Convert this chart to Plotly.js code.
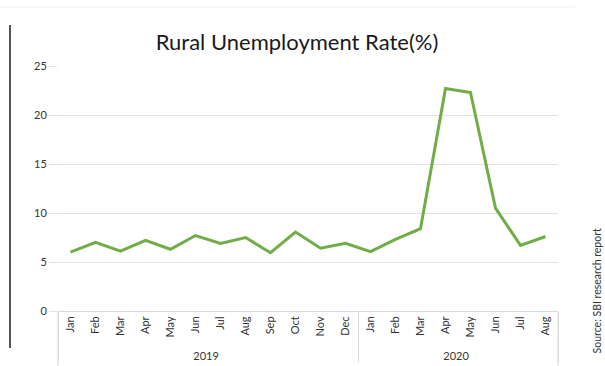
<!DOCTYPE html>
<html>
<head>
<meta charset="utf-8">
<script src="https://cdn.plot.ly/plotly-3.0.1.min.js"></script>
<style>html,body{margin:0;padding:0;background:#fff;}#chart{width:605px;height:366px;}</style>
</head>
<body>
<div id="chart"></div>
<script>
const years = ["2019","2019","2019","2019","2019","2019","2019","2019","2019","2019","2019","2019",
               "2020","2020","2020","2020","2020","2020","2020","2020"];
const months = ["Jan","Feb","Mar","Apr","May","Jun","Jul","Aug","Sep","Oct","Nov","Dec",
                "Jan","Feb","Mar","Apr","May","Jun","Jul","Aug"];
const ruralRate = [6.0, 7.0, 6.1, 7.2, 6.3, 7.7, 6.9, 7.5, 5.95, 8.05, 6.4, 6.9,
                   6.05, 7.3, 8.4, 22.7, 22.3, 10.5, 6.7, 7.6];
const yTicks = [0, 5, 10, 15, 20, 25];

const font = "Lato, 'Open Sans', sans-serif";

Plotly.newPlot("chart", [{
  type: "scatter",
  mode: "lines",
  x: [years, months],
  y: ruralRate,
  line: {color: "#70AD47", width: 3},
  hoverinfo: "skip"
}], {
  width: 605, height: 366,
  margin: {l: 58, r: 47, t: 66, b: 55, pad: 0},
  paper_bgcolor: "#fff", plot_bgcolor: "#fff",
  showlegend: false,
  font: {family: font, color: "#404040"},
  title: {text: "Rural Unemployment Rate(%)", xref: "container", x: 0.491, xanchor: "center",
          yref: "container", y: 0.885, yanchor: "middle",
          font: {family: font, size: 22, color: "#1a1a1a"}},
  xaxis: {
    type: "multicategory",
    range: [-0.5, months.length - 0.5],
    showgrid: false, zeroline: false,
    showline: true, linecolor: "#d9d9d9", linewidth: 1,
    ticks: "", tickangle: -90,
    tickfont: {family: font, size: 11, color: "#333"},
    showdividers: true, dividercolor: "#d9d9d9", dividerwidth: 1
  },
  yaxis: {
    range: [0, 25], tickvals: yTicks, ticktext: yTicks.map(String),
    showgrid: true, gridcolor: "#e3e3e3", gridwidth: 1,
    zeroline: false, showline: false,
    ticks: "outside", ticklen: 8, tickcolor: "#e3e3e3",
    tickfont: {family: font, size: 11, color: "#333"}
  },
  annotations: [{
    text: "Source: SBI research report", xref: "paper", yref: "paper",
    x: 1.078, y: 0.08, xanchor: "center", yanchor: "middle", textangle: -90,
    showarrow: false, font: {family: font, size: 10.5, color: "#333"}
  }],
  shapes: [
    {type: "line", xref: "paper", yref: "paper", x0: -0.096, x1: -0.096, y0: 1.167, y1: -0.151,
     line: {color: "#555", width: 2}},
    {type: "line", xref: "paper", yref: "paper", x0: -0.116, x1: 1.034, y0: 1.241, y1: 1.241,
     line: {color: "#f0f0f0", width: 1}},
    {type: "line", xref: "paper", yref: "paper", x0: 0, x1: 0, y0: 0, y1: -0.23,
     line: {color: "#d9d9d9", width: 1}},
    {type: "line", xref: "paper", yref: "paper", x0: 1, x1: 1, y0: 0, y1: -0.23,
     line: {color: "#d9d9d9", width: 1}}
  ]
}, {displayModeBar: false, staticPlot: true});
</script>
</body>
</html>
